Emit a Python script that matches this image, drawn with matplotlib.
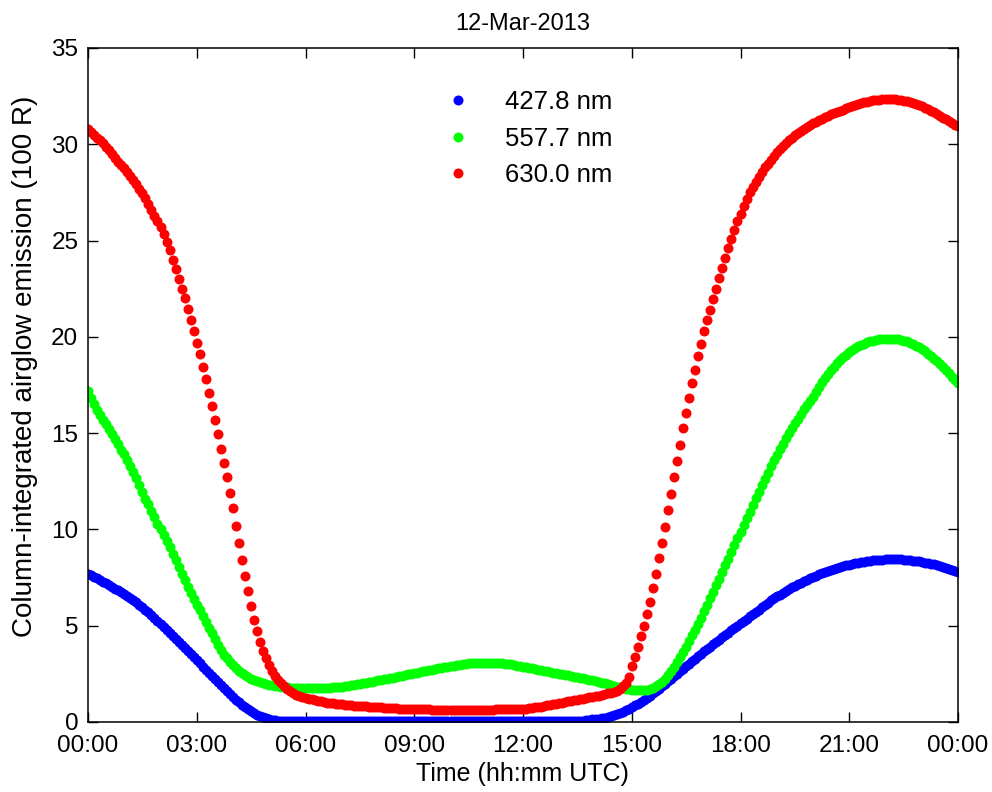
import numpy as np
import matplotlib
matplotlib.use("Agg")
import matplotlib.pyplot as plt

plt.rcParams['font.family'] = ['Liberation Sans', 'DejaVu Sans']

# time axis: one sample every 5 minutes, 00:00 -> 24:00
minutes = np.arange(0, 24 * 60 + 1, 5)
hours = minutes / 60.0

# 427.8 nm (one row = one hour, 12 samples)
blue_vals = [
    7.7, 7.62, 7.54, 7.46, 7.38, 7.29, 7.2, 7.11, 7.02, 6.93, 6.84, 6.75,
    6.65, 6.55, 6.44, 6.33, 6.22, 6.1, 5.97, 5.84, 5.7, 5.55, 5.4, 5.25,
    5.1, 4.95, 4.8, 4.64, 4.48, 4.32, 4.16, 4.0, 3.84, 3.68, 3.52, 3.36,
    3.2, 3.04, 2.88, 2.72, 2.56, 2.4, 2.24, 2.08, 1.92, 1.76, 1.6, 1.45,
    1.3, 1.16, 1.02, 0.89, 0.77, 0.65, 0.55, 0.46, 0.38, 0.31, 0.25, 0.2,
    0.16, 0.12, 0.09, 0.07, 0.06, 0.05, 0.04, 0.04, 0.03, 0.03, 0.03, 0.03,
    0.03, 0.03, 0.03, 0.03, 0.03, 0.03, 0.03, 0.03, 0.03, 0.03, 0.03, 0.03,
    0.03, 0.03, 0.03, 0.03, 0.03, 0.03, 0.03, 0.03, 0.03, 0.03, 0.03, 0.03,
    0.03, 0.03, 0.03, 0.03, 0.03, 0.03, 0.03, 0.03, 0.03, 0.03, 0.03, 0.03,
    0.03, 0.03, 0.03, 0.03, 0.03, 0.03, 0.03, 0.03, 0.03, 0.03, 0.03, 0.03,
    0.03, 0.03, 0.03, 0.03, 0.03, 0.03, 0.03, 0.03, 0.03, 0.03, 0.03, 0.03,
    0.03, 0.03, 0.03, 0.03, 0.03, 0.03, 0.03, 0.03, 0.03, 0.03, 0.03, 0.03,
    0.03, 0.03, 0.03, 0.03, 0.03, 0.03, 0.03, 0.03, 0.03, 0.03, 0.03, 0.03,
    0.03, 0.03, 0.03, 0.03, 0.03, 0.04, 0.04, 0.05, 0.06, 0.08, 0.1, 0.13,
    0.15, 0.17, 0.2, 0.23, 0.27, 0.31, 0.36, 0.41, 0.47, 0.54, 0.61, 0.69,
    0.77, 0.86, 0.95, 1.05, 1.15, 1.26, 1.37, 1.49, 1.61, 1.73, 1.86, 1.99,
    2.12, 2.25, 2.38, 2.51, 2.64, 2.77, 2.9, 3.03, 3.16, 3.29, 3.42, 3.55,
    3.68, 3.8, 3.92, 4.04, 4.16, 4.28, 4.4, 4.52, 4.64, 4.76, 4.88, 5.0,
    5.12, 5.24, 5.36, 5.48, 5.6, 5.72, 5.84, 5.96, 6.08, 6.2, 6.31, 6.42,
    6.52, 6.62, 6.72, 6.82, 6.91, 7.0, 7.08, 7.16, 7.24, 7.32, 7.39, 7.46,
    7.53, 7.6, 7.67, 7.73, 7.79, 7.85, 7.9, 7.95, 8.0, 8.05, 8.09, 8.13,
    8.17, 8.21, 8.24, 8.27, 8.3, 8.33, 8.35, 8.37, 8.39, 8.41, 8.42, 8.43,
    8.44, 8.45, 8.45, 8.45, 8.45, 8.44, 8.43, 8.42, 8.4, 8.38, 8.36, 8.34,
    8.31, 8.28, 8.25, 8.22, 8.18, 8.14, 8.1, 8.05, 8.0, 7.95, 7.89, 7.83,
    7.77,
]

# 557.7 nm
green_vals = [
    17.2, 16.85, 16.5, 16.2, 15.95, 15.7, 15.45, 15.2, 14.95, 14.7, 14.45, 14.15,
    13.9, 13.6, 13.3, 13.0, 12.65, 12.3, 11.95, 11.6, 11.3, 10.95, 10.65, 10.3,
    10.0, 9.7, 9.4, 9.1, 8.75, 8.4, 8.05, 7.7, 7.35, 7.0, 6.7, 6.4,
    6.1, 5.8, 5.5, 5.2, 4.9, 4.6, 4.3, 4.0, 3.75, 3.5, 3.3, 3.1,
    2.95, 2.8, 2.65, 2.52, 2.42, 2.33, 2.25, 2.18, 2.12, 2.06, 2.01, 1.97,
    1.93, 1.9, 1.87, 1.85, 1.83, 1.82, 1.8, 1.79, 1.78, 1.78, 1.77, 1.77,
    1.77, 1.77, 1.77, 1.77, 1.77, 1.77, 1.78, 1.78, 1.79, 1.8, 1.81, 1.82,
    1.84, 1.86, 1.88, 1.9, 1.92, 1.95, 1.98, 2.01, 2.04, 2.07, 2.1, 2.13,
    2.16, 2.19, 2.22, 2.25, 2.28, 2.31, 2.34, 2.37, 2.41, 2.44, 2.47, 2.5,
    2.54, 2.57, 2.6, 2.63, 2.66, 2.69, 2.72, 2.75, 2.78, 2.81, 2.84, 2.87,
    2.9, 2.93, 2.96, 2.98, 3.0, 3.02, 3.04, 3.05, 3.06, 3.07, 3.07, 3.08,
    3.08, 3.08, 3.07, 3.07, 3.06, 3.05, 3.03, 3.01, 2.99, 2.96, 2.93, 2.9,
    2.87, 2.84, 2.81, 2.78, 2.75, 2.72, 2.69, 2.66, 2.63, 2.6, 2.57, 2.54,
    2.51, 2.48, 2.45, 2.42, 2.39, 2.36, 2.33, 2.3, 2.27, 2.24, 2.2, 2.16,
    2.12, 2.08, 2.04, 2.0, 1.96, 1.92, 1.88, 1.84, 1.8, 1.76, 1.73, 1.7,
    1.68, 1.66, 1.65, 1.65, 1.66, 1.68, 1.72, 1.78, 1.86, 1.96, 2.09, 2.24,
    2.45, 2.65, 2.87, 3.1, 3.35, 3.62, 3.9, 4.2, 4.5, 4.8, 5.1, 5.42,
    5.75, 6.08, 6.42, 6.76, 7.1, 7.44, 7.78, 8.13, 8.48, 8.83, 9.18, 9.53,
    9.88, 10.23, 10.58, 10.93, 11.28, 11.62, 11.96, 12.3, 12.63, 12.95, 13.27, 13.58,
    13.88, 14.17, 14.46, 14.74, 15.01, 15.27, 15.52, 15.76, 16.0, 16.23, 16.45, 16.67,
    16.9, 17.15, 17.4, 17.63, 17.85, 18.06, 18.26, 18.45, 18.62, 18.78, 18.93, 19.07,
    19.2, 19.31, 19.41, 19.5, 19.58, 19.65, 19.71, 19.76, 19.8, 19.84, 19.87, 19.89,
    19.9, 19.91, 19.91, 19.9, 19.88, 19.85, 19.81, 19.76, 19.7, 19.63, 19.55, 19.46,
    19.36, 19.25, 19.13, 19.0, 18.87, 18.73, 18.58, 18.43, 18.27, 18.1, 17.93, 17.76,
    17.6,
]

# 630.0 nm
red_vals = [
    30.8, 30.65, 30.5, 30.35, 30.2, 30.05, 29.85, 29.7, 29.5, 29.3, 29.1, 28.9,
    28.75, 28.55, 28.35, 28.15, 27.95, 27.7, 27.45, 27.2, 26.9, 26.6, 26.3, 26.0,
    25.7, 25.35, 24.95, 24.5, 24.0, 23.5, 23.0, 22.5, 22.0, 21.45, 20.9, 20.3,
    19.7, 19.1, 18.45, 17.8, 17.1, 16.4, 15.7, 14.95, 14.2, 13.45, 12.7, 11.9,
    11.1, 10.2, 9.3, 8.4, 7.6, 6.8, 6.0, 5.3, 4.7, 4.15, 3.7, 3.3,
    2.95, 2.65, 2.4, 2.2, 2.0, 1.85, 1.7, 1.6, 1.5, 1.42, 1.35, 1.3,
    1.25, 1.21, 1.17, 1.13, 1.1, 1.07, 1.04, 1.01, 0.99, 0.97, 0.95, 0.93,
    0.91, 0.89, 0.87, 0.86, 0.85, 0.84, 0.83, 0.82, 0.81, 0.8, 0.79, 0.78,
    0.77, 0.76, 0.75, 0.74, 0.73, 0.72, 0.71, 0.7, 0.69, 0.68, 0.68, 0.67,
    0.67, 0.66, 0.66, 0.65, 0.65, 0.65, 0.64, 0.64, 0.64, 0.64, 0.64, 0.64,
    0.64, 0.64, 0.64, 0.64, 0.64, 0.64, 0.64, 0.64, 0.64, 0.64, 0.64, 0.64,
    0.64, 0.64, 0.64, 0.65, 0.65, 0.65, 0.66, 0.66, 0.67, 0.67, 0.68, 0.68,
    0.69, 0.7, 0.72, 0.74, 0.76, 0.78, 0.8, 0.83, 0.86, 0.89, 0.92, 0.95,
    0.98, 1.01, 1.04, 1.07, 1.1, 1.13, 1.16, 1.19, 1.22, 1.25, 1.28, 1.31,
    1.34, 1.37, 1.4, 1.44, 1.48, 1.52, 1.57, 1.63, 1.72, 1.85, 2.05, 2.35,
    2.9, 3.35, 3.9, 4.45, 5.0, 5.6, 6.25, 6.95, 7.7, 8.5, 9.3, 10.15,
    11.0, 11.85, 12.7, 13.55, 14.4, 15.25, 16.05, 16.85, 17.6, 18.3, 19.0, 19.65,
    20.3, 20.85, 21.4, 21.95, 22.5, 23.05, 23.6, 24.1, 24.6, 25.1, 25.55, 26.0,
    26.4, 26.8, 27.15, 27.5, 27.8, 28.05, 28.3, 28.55, 28.8, 29.0, 29.2, 29.4,
    29.6, 29.75, 29.9, 30.05, 30.2, 30.35, 30.5, 30.6, 30.7, 30.8, 30.9, 31.0,
    31.1, 31.15, 31.25, 31.3, 31.4, 31.45, 31.55, 31.6, 31.7, 31.75, 31.8, 31.9,
    31.95, 32.0, 32.05, 32.1, 32.15, 32.2, 32.22, 32.25, 32.28, 32.3, 32.32, 32.34,
    32.35, 32.35, 32.35, 32.34, 32.32, 32.3, 32.27, 32.24, 32.2, 32.15, 32.1, 32.05,
    31.98, 31.9, 31.82, 31.74, 31.66, 31.57, 31.48, 31.39, 31.3, 31.2, 31.1, 31.02,
    30.95,
]

labels = ["427.8 nm", "557.7 nm", "630.0 nm"]
colors = ["#0000ff", "#00ff00", "#ff0000"]

tick_hours = [0, 3, 6, 9, 12, 15, 18, 21, 24]
tick_labels = ["00:00", "03:00", "06:00", "09:00", "12:00", "15:00", "18:00", "21:00", "00:00"]

fig = plt.figure(figsize=(9.92, 7.92), dpi=100)
ax = fig.add_axes([88 / 992, 70 / 792, 870 / 992, 674 / 792])

for vals, col, lab in zip([blue_vals, green_vals, red_vals], colors, labels):
    ax.plot(hours, vals, linestyle="none", marker="o", markersize=7.2,
            markeredgewidth=0, color=col, label=lab)

ax.set_xlim(0, 24)
ax.set_ylim(0, 35)
ax.set_xticks(tick_hours)
ax.set_xticklabels(tick_labels)
ax.set_yticks(range(0, 36, 5))

# matlab-ish box with ticks pointing inside on every side
ax.tick_params(direction="in", length=7, width=1, top=True, right=True,
               labelsize=17.5)
ax.tick_params(axis="x", pad=9)
ax.tick_params(axis="y", pad=7)
for sp in ax.spines.values():
    sp.set_linewidth(1.1)

ax.set_xlabel("Time (hh:mm UTC)", fontsize=18)
ax.xaxis.set_label_coords(0.499, -0.059)
ax.set_ylabel("Column-integrated airglow emission (100 R)", fontsize=20)
ax.yaxis.set_label_coords(-0.057, 0.528)
ax.set_title("12-Mar-2013", fontsize=17, pad=13)

leg = ax.legend(loc="upper left", bbox_to_anchor=(0.3958, 0.938), frameon=False,
                numpoints=1, fontsize=18.5, handlelength=2.0, handletextpad=0.83,
                labelspacing=0.5, borderpad=0, borderaxespad=0)

fig.savefig("out.png", dpi=100)
